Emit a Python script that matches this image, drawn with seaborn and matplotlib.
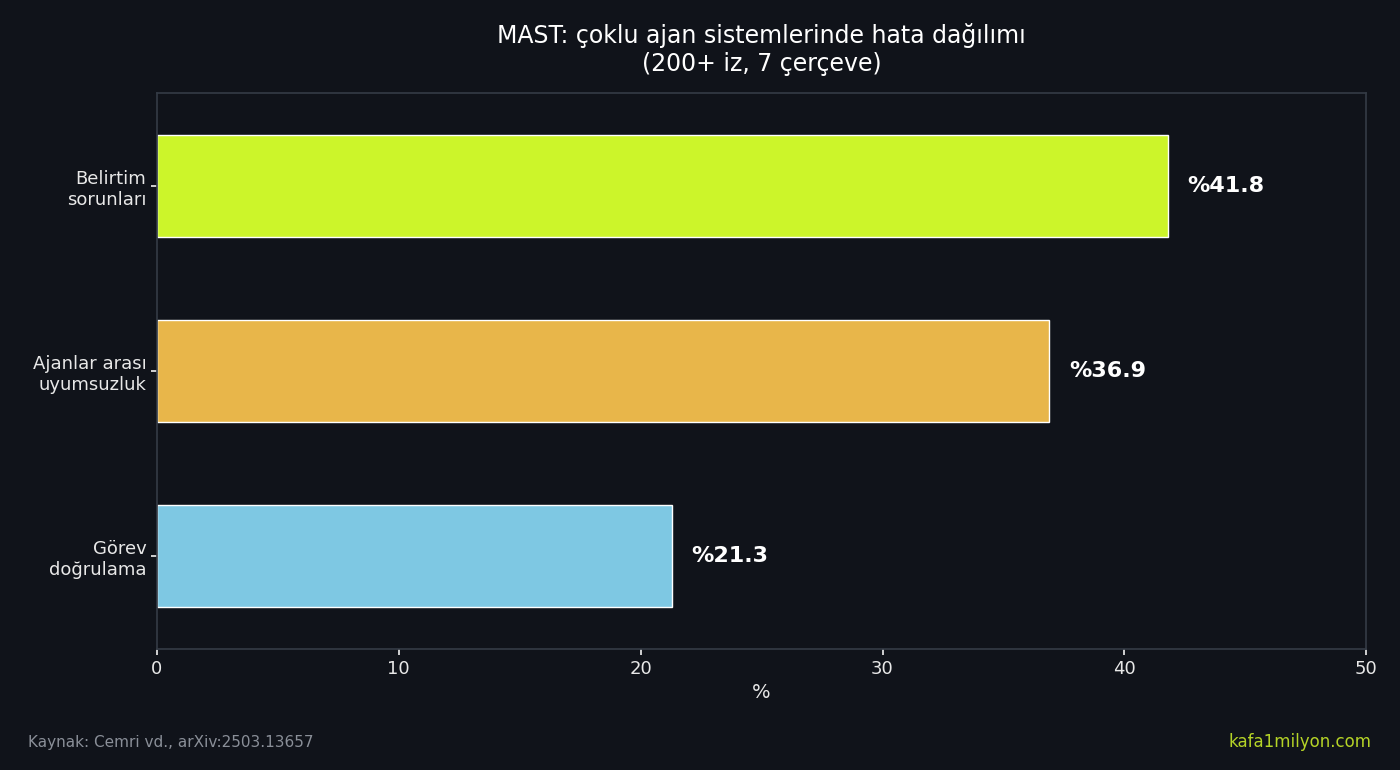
import seaborn as sns
import matplotlib.pyplot as plt
import pandas as pd

categories = ["Belirtim\nsorunları", "Ajanlar arası\nuyumsuzluk", "Görev\ndoğrulama"]
values = [41.8, 36.9, 21.3]
colors = ["#ccf52a", "#e8b64a", "#7ec8e3"]

bg = "#10131a"
sns.set_theme(style="dark")
plt.rcParams['font.family'] = ['DejaVu Sans']

df = pd.DataFrame({"cat": categories, "val": values})
fig = plt.figure(figsize=(14, 7.7), dpi=100, facecolor=bg)
ax = fig.add_axes([0.112, 0.157, 0.864, 0.722], facecolor=bg)
sns.barplot(data=df, y="cat", x="val", hue="cat", palette=colors, legend=False,
            width=0.55, saturation=1, ax=ax)

for i, v in enumerate(values):
    ax.text(v + 0.8, i, f"%{v}", va="center", ha="left", color="white",
            fontsize=16, fontweight="bold")

ax.set_xlim(0, 50)
ax.set_xlabel("%", color="#e8e8e8", fontsize=14)
ax.set_ylabel("")
ax.tick_params(colors="#e8e8e8", labelsize=13, left=True, bottom=True, length=4)
for s in ax.spines.values():
    s.set_color("#333a44")
ax.grid(False)
ax.set_title("MAST: çoklu ajan sistemlerinde hata dağılımı\n(200+ iz, 7 çerçeve)",
             color="white", fontsize=17, pad=16)

fig.text(0.02, 0.03, "Kaynak: Cemri vd., arXiv:2503.13657", color="#8a8f98", fontsize=11)
fig.text(0.98, 0.03, "kafa1milyon.com", color="#b5d327", fontsize=12, ha="right")

fig.savefig("out.png", facecolor=bg)
